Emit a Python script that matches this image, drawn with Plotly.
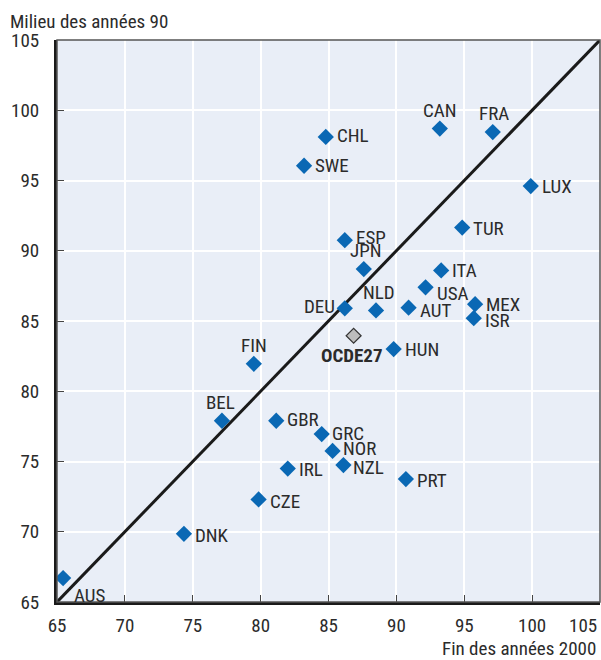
import plotly.graph_objects as go

countries = ["AUS", "DNK", "CZE", "IRL", "GBR", "BEL", "GRC", "NOR", "NZL", "PRT",
             "ESP", "JPN", "TUR", "ITA", "USA", "DEU", "NLD", "AUT", "MEX", "ISR",
             "HUN", "CHL", "SWE", "CAN", "FRA", "LUX", "FIN"]
fin_2000 = [65.45, 74.35, 79.85, 82.0, 81.15, 77.15, 84.5, 85.3, 86.1, 90.7,
            86.2, 87.6, 94.85, 93.3, 92.15, 86.2, 88.5, 90.9, 95.8, 95.7,
            89.8, 84.8, 83.2, 93.2, 97.1, 99.9, 79.5]
milieu_90 = [66.7, 69.85, 72.3, 74.5, 77.9, 77.9, 76.95, 75.75, 74.75, 73.75,
             90.75, 88.7, 91.65, 88.6, 87.4, 85.9, 85.75, 85.95, 86.2, 85.2,
             83.0, 98.1, 96.05, 98.7, 98.45, 94.6, 81.95]
oecd_label = "OCDE27"
oecd_x = [86.85]
oecd_y = [83.95]
diag = [65, 105]
x_ticks = [65, 70, 75, 80, 85, 90, 95, 100, 105]
y_ticks = [65, 70, 75, 80, 85, 90, 95, 100, 105]

# label placement (xanchor, yanchor, xshift, yshift)
placement = {
    "AUS": ("left", "top", 9, -4), "DNK": ("left", "middle", 9, -2),
    "CZE": ("left", "middle", 9, -2), "IRL": ("left", "middle", 9, -1),
    "GBR": ("left", "middle", 9, 1), "BEL": ("center", "bottom", -1, 5),
    "GRC": ("left", "middle", 8, 1), "NOR": ("left", "middle", 8, 2),
    "NZL": ("left", "middle", 8, -2), "PRT": ("left", "middle", 9, -1),
    "ESP": ("left", "middle", 9, 3), "JPN": ("center", "bottom", 2, 5),
    "TUR": ("left", "middle", 9, -1), "ITA": ("left", "middle", 9, 0),
    "USA": ("left", "middle", 9, -6), "DEU": ("right", "middle", -8, 2),
    "NLD": ("center", "bottom", 3, 4), "AUT": ("left", "middle", 9, -3),
    "MEX": ("left", "middle", 9, 0), "ISR": ("left", "middle", 9, -2),
    "HUN": ("left", "middle", 9, 0), "CHL": ("left", "middle", 9, 1),
    "SWE": ("left", "middle", 9, 0), "CAN": ("center", "bottom", 0, 5),
    "FRA": ("center", "bottom", 1, 5), "LUX": ("left", "middle", 9, 0),
    "FIN": ("center", "bottom", 0, 5),
}

FONT = "Roboto Condensed, Roboto, sans-serif"
BLUE = "#0A68B4"
TXT = "#2b2b2b"

fig = go.Figure()
fig.add_trace(go.Scatter(x=diag, y=diag, mode="lines",
                         line=dict(color="#1a1a1a", width=3), hoverinfo="skip"))
fig.add_trace(go.Scatter(x=fin_2000, y=milieu_90, mode="markers", text=countries,
                         marker=dict(symbol="diamond", size=12.5, color=BLUE,
                                     line=dict(width=0))))
fig.add_trace(go.Scatter(x=oecd_x, y=oecd_y, mode="markers", text=[oecd_label],
                         marker=dict(symbol="diamond", size=11.5, color="#BDBDBD",
                                     line=dict(width=1.2, color="#333333"))))

annotations = []
for c, xv, yv in zip(countries, fin_2000, milieu_90):
    xa, ya, xs, ys = placement[c]
    annotations.append(dict(x=xv, y=yv, text=c, showarrow=False, xanchor=xa, yanchor=ya,
                            xshift=xs, yshift=ys,
                            font=dict(family=FONT, size=19, color=TXT)))
annotations.append(dict(x=oecd_x[0], y=oecd_y[0], text="<b>" + oecd_label + "</b>",
                        showarrow=False, xanchor="center", yanchor="top", xshift=-2, yshift=-6,
                        font=dict(family=FONT, size=19, color=TXT)))
annotations.append(dict(x=0, y=1, xref="paper", yref="paper", text="Milieu des années 90",
                        showarrow=False, xanchor="left", yanchor="bottom", xshift=-49, yshift=5,
                        font=dict(family=FONT, size=19, color=TXT)))
annotations.append(dict(x=1, y=0, xref="paper", yref="paper", text="Fin des années 2000",
                        showarrow=False, xanchor="right", yanchor="bottom", xshift=-2, yshift=-60,
                        font=dict(family=FONT, size=19, color=TXT)))
annotations.append(dict(x=1, y=0, xref="paper", yref="paper", text="105",
                        showarrow=False, xanchor="right", yanchor="top", xshift=-1, yshift=-10,
                        font=dict(family=FONT, size=19, color=TXT)))

fig.update_layout(
    width=601, height=660,
    margin=dict(l=57, r=1, t=40, b=58),
    paper_bgcolor="white", plot_bgcolor="#E9EEF7",
    showlegend=False,
    font=dict(family=FONT, size=19, color=TXT),
    annotations=annotations,
    shapes=[dict(type="rect", xref="paper", yref="paper", x0=0, y0=0, x1=1, y1=1,
                 line=dict(color="#555555", width=1.5), layer="above")],
)
fig.update_xaxes(range=[65, 105], tickvals=x_ticks[:-1], ticktext=[str(t) for t in x_ticks[:-1]],
                 showgrid=True, gridcolor="white", gridwidth=1.5, zeroline=False,
                 showline=True, linecolor="#1a1a1a", linewidth=3, ticks="inside",
                 ticklen=7, tickcolor="#444444", tickwidth=1, ticklabelstandoff=4)
fig.update_yaxes(range=[65, 105], tickvals=y_ticks, showgrid=True, gridcolor="white",
                 gridwidth=1.5, zeroline=False, showline=True, linecolor="#1a1a1a",
                 linewidth=3, ticks="inside", ticklen=7, tickcolor="#444444", tickwidth=1,
                 ticklabelstandoff=11)

fig.write_html("out.html", config={"displayModeBar": False},
               post_script="document.body.style.margin='0';document.body.style.overflow='hidden';")
